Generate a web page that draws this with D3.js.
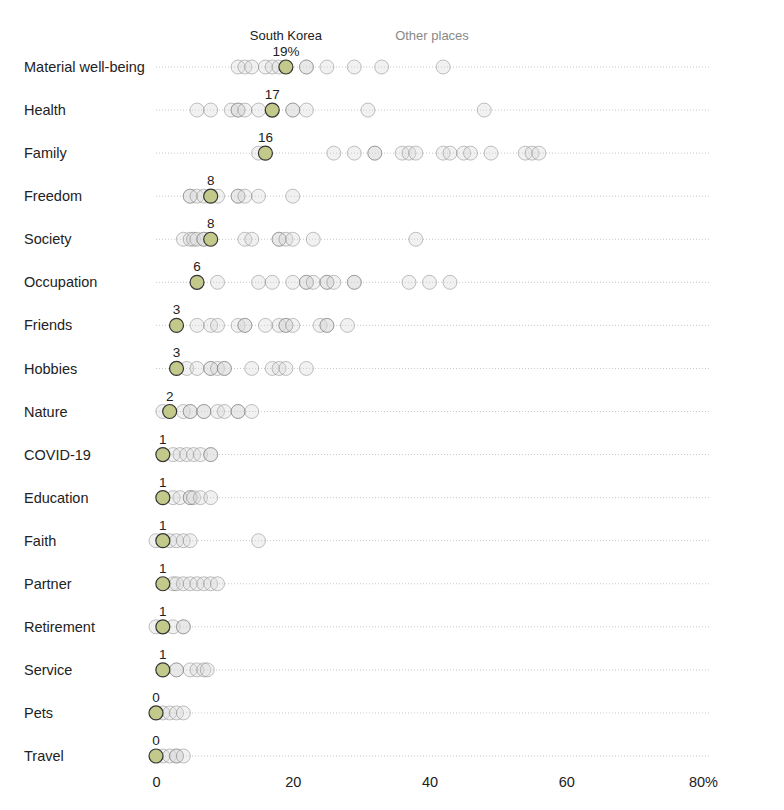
<!DOCTYPE html>
<html>
<head>
<meta charset="utf-8">
<script src="https://cdn.jsdelivr.net/npm/d3@7"></script>
<style>
  body { margin: 0; background: #fff; }
  text { font-family: "Liberation Sans", Arial, sans-serif; }
</style>
</head>
<body>
<svg id="chart"></svg>
<script>
// categories, top to bottom
var categories = ["Material well-being", "Health", "Family", "Freedom", "Society",
  "Occupation", "Friends", "Hobbies", "Nature", "COVID-19", "Education", "Faith",
  "Partner", "Retirement", "Service", "Pets", "Travel"];

// % of South Koreans mentioning each source of meaning
var korea = [19, 17, 16, 8, 8, 6, 3, 3, 2, 1, 1, 1, 1, 1, 1, 0, 0];

// other places, one list per category
var others = [
  [12, 13, 14, 16, 17, 18, 22, 22, 25, 29, 33, 42],
  [6, 8, 11, 12, 12, 13, 15, 20, 20, 22, 31, 48],
  [15, 26, 29, 32, 32, 36, 37, 38, 42, 43, 45, 46, 49, 54, 55, 56],
  [5, 5, 6, 7, 9, 12, 12, 13, 15, 20],
  [4, 5, 5.5, 6, 7, 7, 13, 14, 18, 18, 19, 20, 23, 38],
  [9, 15, 17, 20, 22, 22, 23, 25, 25, 26, 29, 29, 37, 40, 43],
  [6, 8, 9, 12, 13, 13, 16, 18, 19, 19, 20, 24, 25, 25, 28],
  [4.5, 6, 8, 8, 9, 10, 10, 14, 17, 18, 19, 22],
  [1, 4, 5, 5, 7, 7, 9, 10, 12, 12, 14],
  [2.5, 3.5, 4.5, 5.5, 6.5, 8, 8],
  [2.5, 3.5, 5, 5, 5.5, 6.5, 8],
  [0, 2, 3, 4, 5, 15],
  [2.5, 3, 4, 5, 6, 7, 8, 9],
  [0, 2.5, 4, 4],
  [3, 3, 5, 6, 7, 7.5],
  [1, 2, 3, 4],
  [1, 2, 3, 3, 4]
];

var xTicks = [0, 20, 40, 60, 80];

var width = 784, height = 810;
var r = 7;

var svg = d3.select("#chart")
    .attr("width", width)
    .attr("height", height);

// scales
var x = d3.scaleLinear()
    .domain([0, 80])
    .range([156, 703]);

var y = d3.scalePoint()
    .domain(categories)
    .range([67, 756]);

// dotted row lines
svg.append("g").selectAll("line")
    .data(categories)
    .join("line")
    .attr("x1", x(0))
    .attr("x2", x(81))
    .attr("y1", function(d) { return y(d); })
    .attr("y2", function(d) { return y(d); })
    .attr("stroke", "#c8c8c8")
    .attr("stroke-width", 1)
    .attr("stroke-dasharray", "1,2");

// row labels
svg.append("g").selectAll("text")
    .data(categories)
    .join("text")
    .attr("x", 24)
    .attr("y", function(d) { return y(d); })
    .attr("dy", "0.35em")
    .style("font-size", "14.5px")
    .attr("fill", "#222")
    .text(function(d) { return d; });

// other places circles
var pts = [];
others.forEach(function(vals, i) {
    vals.forEach(function(v) { pts.push({ cat: categories[i], v: v }); });
});

svg.append("g").selectAll("circle")
    .data(pts)
    .join("circle")
    .attr("cx", function(d) { return x(d.v); })
    .attr("cy", function(d) { return y(d.cat); })
    .attr("r", r)
    .attr("fill", "#d6d6d6")
    .attr("fill-opacity", 0.35)
    .attr("stroke", "#6e6e6e")
    .attr("stroke-opacity", 0.42)
    .attr("stroke-width", 1);

// South Korea circles
svg.append("g").selectAll("circle")
    .data(korea)
    .join("circle")
    .attr("cx", function(d) { return x(d); })
    .attr("cy", function(d, i) { return y(categories[i]); })
    .attr("r", r)
    .attr("fill", "#c2c98a")
    .attr("stroke", "#333")
    .attr("stroke-width", 1.2);

// value labels above South Korea
svg.append("g").selectAll("text")
    .data(korea)
    .join("text")
    .attr("x", function(d) { return x(d); })
    .attr("y", function(d, i) { return y(categories[i]) - 11; })
    .attr("text-anchor", "middle")
    .style("font-size", "13.5px")
    .attr("fill", "#222")
    .text(function(d, i) { return i === 0 ? d + "%" : d; });

// legend labels
svg.append("text")
    .attr("x", x(korea[0]))
    .attr("y", 40)
    .attr("text-anchor", "middle")
    .style("font-size", "13px")
    .attr("fill", "#222")
    .text("South Korea");

svg.append("text")
    .attr("x", 432)
    .attr("y", 40)
    .attr("text-anchor", "middle")
    .style("font-size", "13px")
    .attr("fill", "#888")
    .text("Other places");

// x axis
var axis = svg.append("g")
    .attr("transform", "translate(0,774)")
    .call(d3.axisBottom(x)
        .tickValues(xTicks)
        .tickSize(0)
        .tickFormat(function(d) { return d === 80 ? "80%" : d; }));

axis.select(".domain").remove();
axis.selectAll("text")
    .style("font-family", "'Liberation Sans', Arial, sans-serif")
    .style("font-size", "14.5px")
    .attr("fill", "#222");
</script>
</body>
</html>
